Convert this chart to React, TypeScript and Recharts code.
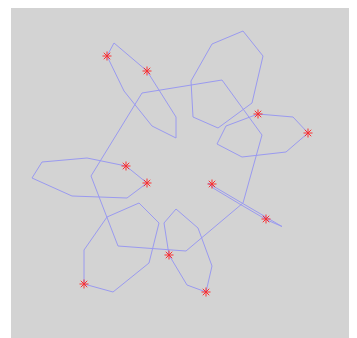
import React from "react";
import { ComposedChart, Line, Scatter, XAxis, YAxis } from "recharts";

type P = { x: number; y: number };

const centre: P[] = [
  { x: 131, y: 89 }, { x: 211, y: 76 }, { x: 251, y: 131 }, { x: 232, y: 199 },
  { x: 175, y: 247 }, { x: 107, y: 242 }, { x: 80, y: 172 }, { x: 131, y: 89 },
];
const petalA: P[] = [
  { x: 103, y: 39 }, { x: 136, y: 67 }, { x: 165, y: 113 }, { x: 165, y: 134 },
  { x: 141, y: 122 }, { x: 113, y: 87 }, { x: 96, y: 52 }, { x: 103, y: 39 },
];
const petalB: P[] = [
  { x: 201, y: 40 }, { x: 232, y: 27 }, { x: 252, y: 52 }, { x: 241, y: 99 },
  { x: 207, y: 124 }, { x: 182, y: 113 }, { x: 180, y: 77 }, { x: 201, y: 40 },
];
const petalC: P[] = [
  { x: 247, y: 110 }, { x: 282, y: 113 }, { x: 297, y: 129 }, { x: 275, y: 148 },
  { x: 231, y: 153 }, { x: 206, y: 140 }, { x: 215, y: 122 }, { x: 247, y: 110 },
];
const petalD: P[] = [
  { x: 197, y: 179 }, { x: 234, y: 200.8 }, { x: 271, y: 222.5 }, { x: 256, y: 216 },
  { x: 229, y: 200.2 }, { x: 202, y: 184 }, { x: 197, y: 179 },
];
const petalE: P[] = [
  { x: 165, y: 205 }, { x: 187, y: 224 }, { x: 201, y: 262 }, { x: 195, y: 288 },
  { x: 176, y: 281 }, { x: 158, y: 251 }, { x: 153, y: 219 }, { x: 165, y: 205 },
];
const petalF: P[] = [
  { x: 128, y: 199 }, { x: 148, y: 219 }, { x: 138, y: 259 }, { x: 102, y: 288 },
  { x: 73, y: 280 }, { x: 73, y: 246 }, { x: 96, y: 213 }, { x: 128, y: 199 },
];
const petalG: P[] = [
  { x: 115, y: 162 }, { x: 136, y: 179 }, { x: 116, y: 194 }, { x: 61, y: 192 },
  { x: 21, y: 174 }, { x: 31, y: 158 }, { x: 76, y: 154 }, { x: 115, y: 162 },
];
const stars: P[] = [
  { x: 96, y: 52 }, { x: 136, y: 67 }, { x: 247, y: 110 }, { x: 297, y: 129 },
  { x: 115, y: 162 }, { x: 136, y: 179 }, { x: 201, y: 180 }, { x: 255, y: 215 },
  { x: 158, y: 251 }, { x: 195, y: 288 }, { x: 73, y: 280 },
];

const loops = [centre, petalA, petalB, petalC, petalD, petalE, petalF, petalG];

const Star = (props: any) => {
  const { cx, cy } = props;
  const r = 4.5;
  const d = r * 0.72;
  return (
    <g stroke="#ff2020" strokeWidth={1} opacity={0.9}>
      <line x1={cx - r} y1={cy} x2={cx + r} y2={cy} />
      <line x1={cx} y1={cy - r} x2={cx} y2={cy + r} />
      <line x1={cx - d} y1={cy - d} x2={cx + d} y2={cy + d} />
      <line x1={cx - d} y1={cy + d} x2={cx + d} y2={cy - d} />
    </g>
  );
};

export default function App() {
  return (
    <div style={{ marginLeft: 3, marginTop: -4, width: 346, height: 334, background: "#d3d3d3" }}>
      <ComposedChart width={346} height={334} margin={{ top: 0, right: 0, bottom: 0, left: 0 }}>
        <XAxis type="number" dataKey="x" domain={[0, 346]} hide allowDataOverflow />
        <YAxis type="number" dataKey="y" domain={[0, 334]} reversed hide allowDataOverflow />
        {loops.map((d, i) => (
          <Line
            key={i}
            data={d}
            dataKey="y"
            type="linear"
            stroke="#9a9af0"
            strokeWidth={1}
            dot={false}
            activeDot={false}
            isAnimationActive={false}
          />
        ))}
        <Scatter data={stars} dataKey="y" shape={<Star />} isAnimationActive={false} />
      </ComposedChart>
    </div>
  );
}
